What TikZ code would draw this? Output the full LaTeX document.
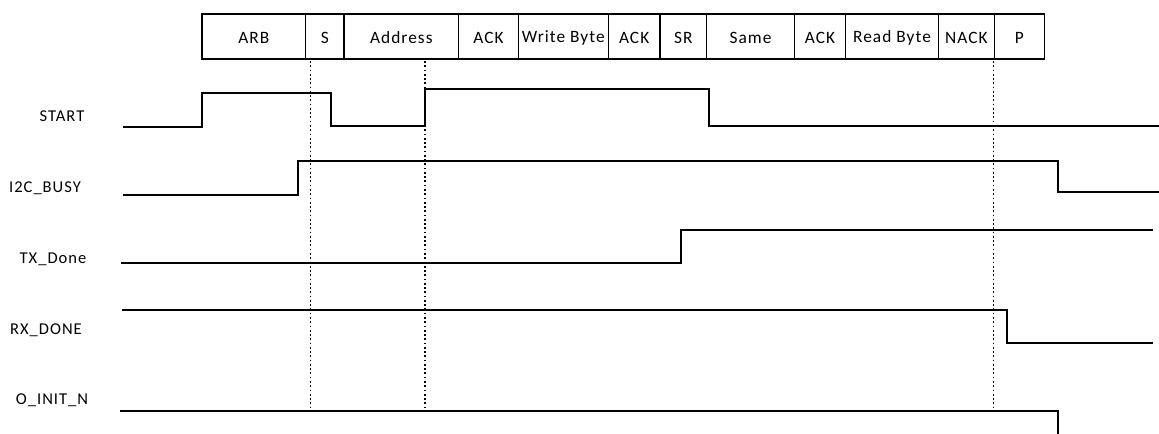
\documentclass[tikz,border=0pt]{standalone}
\usepackage{fontspec}
\setmainfont{Carlito}
\newfontfamily\spacedfont[LetterSpace=6]{Carlito}
\begin{document}
\begin{tikzpicture}[x=0.75pt,y=-0.75pt,
  sig/.style={line width=1.2pt},
  boxline/.style={line width=1.1pt},
  boxtext/.style={font=\spacedfont\fontsize{13}{15}\selectfont, inner sep=0pt},
  lbl/.style={font=\spacedfont\fontsize{12.4}{14}\selectfont, inner sep=0pt},
  guide/.style={line width=1.4pt, dash pattern=on 1.3pt off 1.9pt}]
\path[use as bounding box, fill=white] (0,0) rectangle (1159,434);
% frame boxes
\foreach \a/\b/\t/\n in {202/305.7/ARB/arb, 305.7/344/S/s, 344/458.7/Address/addr,
  458.7/518.3/ACK/acka, 518.3/608.3/Write Byte/wbyte, 608.3/660/ACK/ackb,
  660/706.7/SR/sr, 706.7/794.3/Same/same, 794.3/845.7/ACK/ackc,
  845.7/938.3/Read Byte/rbyte, 938.3/994.3/NACK/nack, 994.3/1044.3/P/p} {
  \draw[boxline] (\a,14) rectangle (\b,59);
  \node[boxtext] (\n) at ({(\a+\b)/2},37.5) {\t};
}
% guide lines
\draw[guide] (310.5,61) -- (310.5,408);
\draw[guide] (425.3,61) -- (425.3,408);
\draw[guide] (993.5,61) -- (993.5,408);
% labels
\node[lbl] (lstart) at (62,116) {START};
\node[lbl] (lbusy) at (45,188) {I2C\_BUSY};
\node[lbl] (ltx) at (53,259) {TX\_Done};
\node[lbl] (lrx) at (46,330) {RX\_DONE};
\node[lbl] (linit) at (52,400) {O\_INIT\_N};
% waveforms
\draw[sig] (123,127) -- (202,127) -- (202,93) -- (331,93) -- (331,126) -- (425,126)
  -- (425,89) -- (709,89) -- (709,126) -- (1159,126);
\draw[sig] (123,195) -- (298,195) -- (298,161) -- (1058,161)
  -- (1058,192) -- (1159,192);
\draw[sig] (121,263) -- (681,263) -- (681,230) -- (1153,230);
\draw[sig] (122,310) -- (1007,310) -- (1007,343) -- (1153,343);
\draw[sig] (120,411) -- (1058,411) -- (1058,434);
\end{tikzpicture}
\end{document}
